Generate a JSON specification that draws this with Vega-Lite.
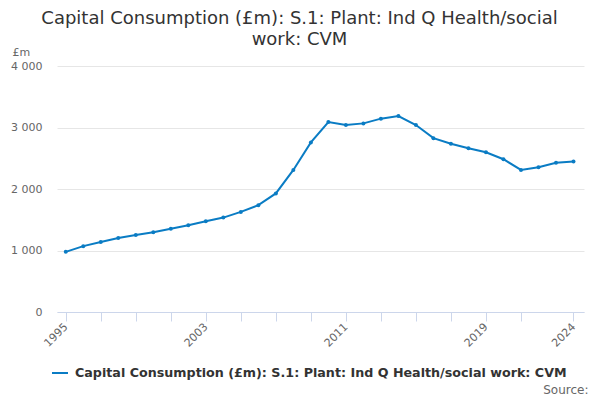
{
  "$schema": "https://vega.github.io/schema/vega-lite/v6.json",
  "width": 527,
  "height": 246,
  "autosize": {"type": "none"},
  "padding": {"left": 57, "top": 66, "right": 16, "bottom": 88},
  "background": "white",
  "title": {
    "text": ["Capital Consumption (£m): S.1: Plant: Ind Q Health/social", "work: CVM"],
    "font": "DejaVu Sans",
    "fontSize": 18,
    "fontWeight": "normal",
    "color": "#333333",
    "anchor": "middle",
    "dx": -21,
    "dy": 7,
    "offset": 4,
    "lineHeight": 21
  },
  "config": {
    "view": {"stroke": null},
    "font": "DejaVu Sans"
  },
  "data": {
    "values": [
      {"year": 1995, "value": 978},
      {"year": 1996, "value": 1071},
      {"year": 1997, "value": 1137},
      {"year": 1998, "value": 1202},
      {"year": 1999, "value": 1252},
      {"year": 2000, "value": 1296},
      {"year": 2001, "value": 1355},
      {"year": 2002, "value": 1410},
      {"year": 2003, "value": 1475},
      {"year": 2004, "value": 1535},
      {"year": 2005, "value": 1628},
      {"year": 2006, "value": 1737},
      {"year": 2007, "value": 1928},
      {"year": 2008, "value": 2310},
      {"year": 2009, "value": 2757},
      {"year": 2010, "value": 3089},
      {"year": 2011, "value": 3040},
      {"year": 2012, "value": 3067},
      {"year": 2013, "value": 3144},
      {"year": 2014, "value": 3187},
      {"year": 2015, "value": 3040},
      {"year": 2016, "value": 2827},
      {"year": 2017, "value": 2735},
      {"year": 2018, "value": 2664},
      {"year": 2019, "value": 2598},
      {"year": 2020, "value": 2484},
      {"year": 2021, "value": 2310},
      {"year": 2022, "value": 2353},
      {"year": 2023, "value": 2425},
      {"year": 2024, "value": 2446}
    ]
  },
  "transform": [
    {"calculate": "'Capital Consumption (£m): S.1: Plant: Ind Q Health/social work: CVM'", "as": "series"}
  ],
  "mark": {"type": "line", "strokeWidth": 2, "point": {"size": 16, "filled": true}},
  "encoding": {
    "x": {
      "field": "year",
      "type": "quantitative",
      "scale": {"domain": [1994.5, 2024.6], "nice": false, "zero": false},
      "axis": {
        "values": [1995, 1997, 1999, 2001, 2003, 2005, 2007, 2009, 2011, 2013, 2015, 2017, 2019, 2021, 2024],
        "labelExpr": "indexof([1995, 2003, 2011, 2019, 2024], datum.value) >= 0 ? format(datum.value, 'd') : ''",
        "labelAngle": -45,
        "labelAlign": "right",
        "labelBaseline": "middle",
        "labelFontSize": 11,
        "labelColor": "#666666",
        "labelPadding": 4,
        "labelOverlap": false,
        "labelFlush": false,
        "tickColor": "#ccd6eb",
        "tickSize": 9,
        "domainColor": "#ccd6eb",
        "grid": false,
        "title": "Source:",
        "titleFont": "DejaVu Sans",
        "titleFontSize": 12,
        "titleFontWeight": "normal",
        "titleColor": "#666666",
        "titleAnchor": "end",
        "titleAlign": "right",
        "titleBaseline": "middle",
        "titleX": 531,
        "titleY": 77
      }
    },
    "y": {
      "field": "value",
      "type": "quantitative",
      "scale": {"domain": [0, 4000], "nice": false},
      "axis": {
        "values": [0, 1000, 2000, 3000, 4000],
        "labelExpr": "replace(format(datum.value, ','), ',', ' ')",
        "labelFontSize": 11,
        "labelColor": "#666666",
        "labelPadding": 15,
        "domain": false,
        "ticks": false,
        "gridColor": "#e6e6e6",
        "title": "£m",
        "titleAngle": 0,
        "titleFontSize": 11,
        "titleFontWeight": "normal",
        "titleColor": "#666666",
        "titleAlign": "left",
        "titleBaseline": "middle",
        "titleX": -45,
        "titleY": -14
      }
    },
    "color": {
      "field": "series",
      "type": "nominal",
      "scale": {"range": ["#0a7cc4"]},
      "legend": {
        "orient": "none",
        "legendX": -6,
        "legendY": 298,
        "title": null,
        "symbolType": "stroke",
        "symbolSize": 256,
        "symbolStrokeWidth": 2,
        "labelFont": "DejaVu Sans",
        "labelFontSize": 12.7,
        "labelFontWeight": "bold",
        "labelColor": "#333333",
        "labelOffset": 6,
        "labelLimit": 600
      }
    }
  }
}
